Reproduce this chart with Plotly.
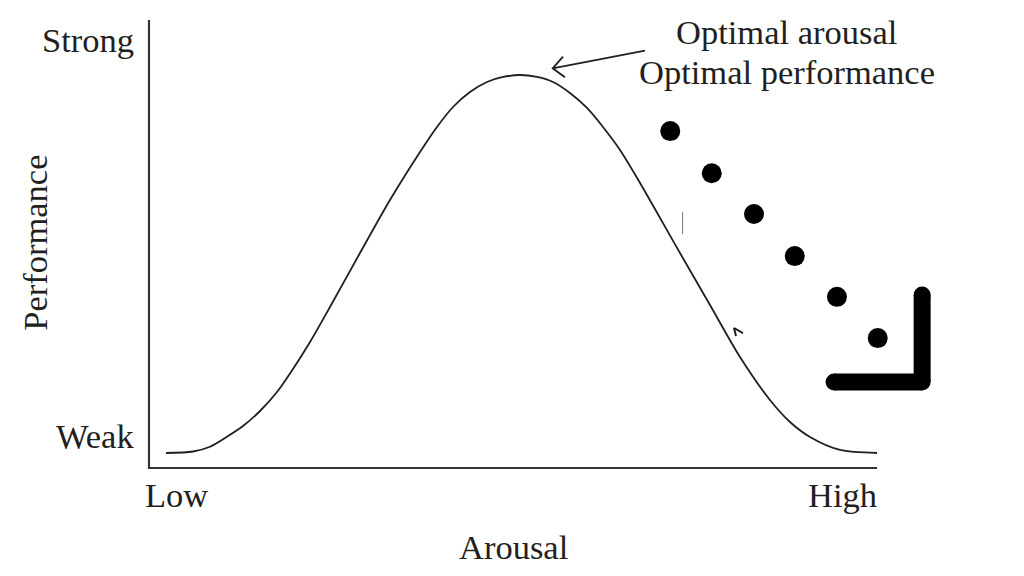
import plotly.graph_objects as go

# ---- data (axis units: arousal 0=Low..100=High, performance 0=Weak..100=Strong) ----
arousal = [2.34, 6.04, 8.38, 10.71, 12.91, 15.25, 17.58, 19.78, 22.12, 24.86, 28.98, 33.10,
           37.23, 39.56, 41.76, 44.09, 46.43, 48.63, 50.96, 53.30, 55.49, 57.83, 60.16, 62.36,
           64.70, 67.45, 72.94, 77.06, 81.18, 85.30, 88.05, 90.80, 94.92, 100.0]
performance = [3.35, 3.68, 4.75, 6.99, 9.38, 12.72, 16.96, 22.10, 28.13, 35.94, 47.99, 59.82,
               70.54, 76.12, 80.58, 83.93, 86.16, 87.28, 87.72, 87.28, 86.16, 83.71, 80.36, 76.12,
               70.98, 63.62, 47.99, 36.38, 24.78, 15.18, 10.27, 6.92, 4.02, 3.35]

dots_x = [71.6, 77.3, 83.1, 88.7, 94.5, 100.1]
dots_y = [75.2, 65.8, 56.7, 47.3, 38.2, 29.0]

corner_x = [94.1, 106.2, None, 106.2, 106.2]
corner_y = [19.2, 19.2, None, 19.2, 38.6]
corner_caps_x = [94.1, 106.2, 106.2]
corner_caps_y = [19.2, 19.2, 38.6]

axis_x = [0, 0, 100]
axis_y = [100, 0, 0]

pointer_shaft_x = [68.13, 55.45]
pointer_shaft_y = [93.15, 89.22]
pointer_head_x = [56.87, 55.45, 57.14]
pointer_head_y = [91.81, 89.22, 87.21]

tick_x = [73.3, 73.3]
tick_y = [57.2, 52.2]
small_head_x = [81.59, 80.36, 80.63]
small_head_y = [30.13, 31.25, 29.46]

labels = ["Strong", "Weak", "Low", "High", "Arousal", "Performance",
          "Optimal arousal", "Optimal performance"]
label_x = [-1.8, -1.8, -0.8, 100.3, 50.1, -15.7, 87.5, 87.6]
label_y = [95.6, 7.1, -6.0, -6.0, -17.6, 50.2, 97.4, 88.4]
label_xanchor = ["right", "right", "left", "right", "center", "center", "center", "center"]
label_angle = [0, 0, 0, 0, 0, -90, 0, 0]

INK = "#231f20"
FONT = "Liberation Serif"

fig = go.Figure()

fig.add_trace(go.Scatter(x=axis_x, y=axis_y, mode="lines",
                         line=dict(color="#333333", width=2.2), hoverinfo="skip"))
fig.add_trace(go.Scatter(x=arousal, y=performance, mode="lines",
                         line=dict(color=INK, width=1.8, shape="spline", smoothing=0.8),
                         hoverinfo="skip"))
fig.add_trace(go.Scatter(x=dots_x, y=dots_y, mode="markers",
                         marker=dict(color="black", size=20), hoverinfo="skip"))
fig.add_trace(go.Scatter(x=corner_x, y=corner_y, mode="lines", connectgaps=False,
                         line=dict(color="black", width=17), hoverinfo="skip"))
fig.add_trace(go.Scatter(x=corner_caps_x, y=corner_caps_y, mode="markers",
                         marker=dict(color="black", size=17), hoverinfo="skip"))
fig.add_trace(go.Scatter(x=pointer_shaft_x, y=pointer_shaft_y, mode="lines",
                         line=dict(color=INK, width=1.8), hoverinfo="skip"))
fig.add_trace(go.Scatter(x=pointer_head_x, y=pointer_head_y, mode="lines",
                         line=dict(color=INK, width=1.8), hoverinfo="skip"))
fig.add_trace(go.Scatter(x=tick_x, y=tick_y, mode="lines",
                         line=dict(color="#777777", width=1), hoverinfo="skip"))
fig.add_trace(go.Scatter(x=small_head_x, y=small_head_y, mode="lines",
                         line=dict(color=INK, width=2), hoverinfo="skip"))

for t, x, y, xa, ang in zip(labels, label_x, label_y, label_xanchor, label_angle):
    fig.add_annotation(x=x, y=y, text=t, showarrow=False, xanchor=xa, yanchor="middle",
                       textangle=ang, font=dict(family=FONT, size=34.5, color=INK))

# ranges compensate for the 8px default page margin of the browser
fig.update_layout(
    width=1024, height=576,
    margin=dict(l=0, r=0, t=0, b=0),
    paper_bgcolor="white", plot_bgcolor="white",
    showlegend=False,
    xaxis=dict(range=[-19.368, 121.291], visible=False, fixedrange=True),
    yaxis=dict(range=[-25.893, 102.679], visible=False, fixedrange=True),
)

fig.write_html("out.html")
